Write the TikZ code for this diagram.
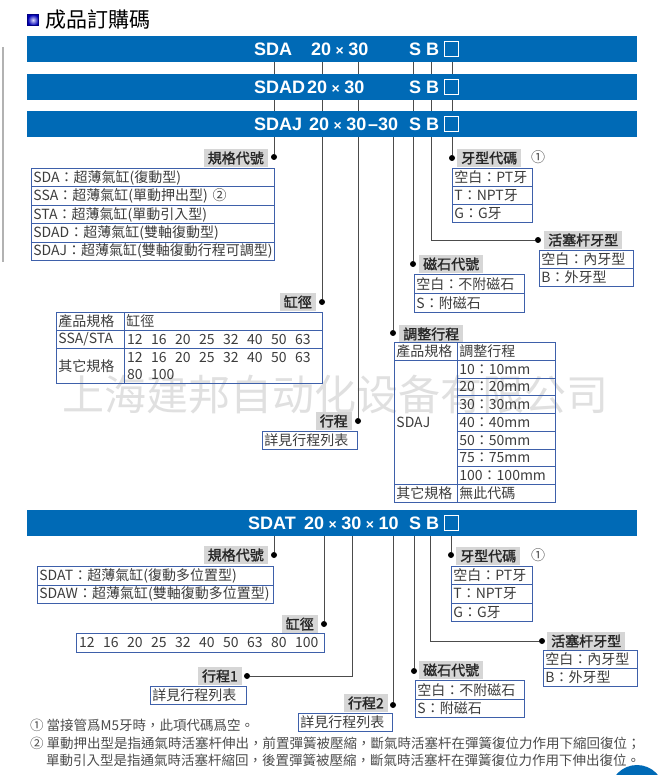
\documentclass[tikz,border=0pt]{standalone}
\usepackage{fontspec}
\setmainfont{Noto Sans CJK TC}
\newfontfamily\labfont{Noto Sans CJK TC}[FakeBold=1.5]
\newfontfamily\barfont{Liberation Sans}
\newfontfamily\wmfont{Noto Sans CJK SC}
\newcommand\tblfont{\fontsize{14}{15.5}\selectfont}
\newcommand\labsize{\labfont\fontsize{14}{16}\selectfont}
\newcommand\barsize{\barfont\bfseries\fontsize{18}{18}\selectfont}
\newcommand\by{\hspace{4.5pt}{\fontsize{14}{14}\selectfont ×}\hspace{4.5pt}}
\definecolor{barblue}{RGB}{0,106,182}
\definecolor{tblue}{RGB}{62,96,170}
\definecolor{labgray}{RGB}{214,214,214}
\definecolor{txtgray}{RGB}{60,60,60}

\begin{document}
\begin{tikzpicture}[x=1pt, y=-1pt,
  bar/.style={fill=barblue, minimum width=610pt, minimum height=26pt, inner sep=0pt},
  bartxt/.style={font=\barsize, text=white, anchor=base west, inner sep=0pt},
  slot/.style={draw=white, line width=0.8pt, minimum width=14pt, minimum height=15pt, inner sep=0pt},
  wire/.style={draw=black!70, line width=0.8pt},
  dot/.style={circle, fill=black, inner sep=0pt, minimum size=6pt},
  lab/.style={fill=labgray, font=\labsize, text=black!85, inner xsep=4pt, inner ysep=0pt, minimum height=18pt},
  cell/.style={draw=tblue, line width=0.8pt, anchor=north west, inner xsep=2pt, inner ysep=0pt,
    minimum height=18pt, text width=#1, align=left, font=\tblfont, text=txtgray},
  num/.style={font=\tblfont, text=txtgray, anchor=base west, inner sep=0pt},
  note/.style={font=\fontsize{13.5}{15}\selectfont, text=black!70, anchor=west, inner sep=0pt}]
  \useasboundingbox (0,0) rectangle (665,775);
  % Watermark and page edge
  \node[font=\wmfont\fontsize{42}{42}\selectfont, text=black!12] (wm) at (335,395) {上海建邦自动化设备有限公司};
  \draw[black!30, line width=1.2pt] (3,47) -- (3,262);
  \begin{scope}
    \clip (0,0) rectangle (665,775);
    \fill[barblue] (637,792) circle (27);
  \end{scope}
  % Title
  \node[shade, inner color=blue!15, outer color=blue!70!black, draw=blue!50!black, minimum size=11pt, inner sep=0pt] (icon) at (33,20) {};
  \node[anchor=west, font=\fontsize{21}{21}\selectfont] (title) at (42,20) {成品訂購碼};
  % Lines between the code bars
  \foreach \x in {274,322,358,413,431,452}
    \draw[wire] (\x,62) -- (\x,111);
  % Code bars
  \node[bar] (bar1) at (332,49) {};
  \node[bar] (bar2) at (332,87) {};
  \node[bar] (bar3) at (332,124) {};
  \node[bar] (bar4) at (332,523) {};
  \node[bartxt] (b1-code) at (254,55.5) {SDA};
  \node[bartxt] (b1-size) at (311,55.5) {20\by30};
  \node[bartxt] (b2-code) at (254,93.5) {SDAD};
  \node[bartxt] (b2-size) at (307,93.5) {20\by30};
  \node[bartxt] (b3-code) at (254,130.5) {SDAJ};
  \node[bartxt] (b3-size) at (309,130.5) {20\by30};
  \node[bartxt] (b3-adj) at (368,130.5) {–30};
  \node[bartxt] (b4-code) at (248,529.5) {SDAT};
  \node[bartxt] (b4-size) at (304,529.5) {20\by30\by10};
  \foreach \y/\b in {49/1,87/2,124/3,523/4} {
    \node[bartxt] (b\b-s) at (409,\y+6.5) {S};
    \node[bartxt] (b\b-b) at (426,\y+6.5) {B};
    \node[slot] (b\b-t) at (451.5,\y) {};
  }

  % ---- SDA / SDAD / SDAJ ----
  % Spec code
  \node[dot] (d-spec) at (274,157) {};
  \node[lab, anchor=east] (l-spec) at (268,158) {規格代號};
  \foreach \t [count=\i from 0] in {SDA：超薄氣缸(復動型), SSA：超薄氣缸(單動押出型) ②, STA：超薄氣缸(單動引入型), SDAD：超薄氣缸(雙軸復動型), SDAJ：超薄氣缸(雙軸復動行程可調型)}
    \node[cell=239pt, minimum height=18.4pt] (spec\i) at (31,168+18.4*\i) {\t};
  % Thread code
  \node[dot] (d-thread) at (452,158) {};
  \node[lab, anchor=west] (l-thread) at (457,158) {牙型代碼};
  \node[note, font=\fontsize{14}{14}\selectfont] (n-thread) at (531,157) {①};
  \foreach \t [count=\i from 0] in {空白：PT牙, T：NPT牙, G：G牙}
    \node[cell=76pt] (thread\i) at (452,168+18*\i) {\t};
  % Rod end thread
  \coordinate (k-rod) at (431,137);
  \node[dot] (d-rod) at (538,240) {};
  \node[lab, anchor=west] (l-rod) at (544,240) {活塞杆牙型};
  \foreach \t [count=\i from 0] in {空白：內牙型, B：外牙型}
    \node[cell=90pt] (rod\i) at (539,250+18*\i) {\t};
  % Magnet
  \node[dot] (d-mag) at (413,264) {};
  \node[lab, anchor=west] (l-mag) at (419,264) {磁石代號};
  \foreach \t [count=\i from 0] in {空白：不附磁石, S：附磁石}
    \node[cell=106pt, minimum height=19pt] (mag\i) at (414,274+19*\i) {\t};
  % Adjustable stroke
  \node[dot] (d-adj) at (393,333) {};
  \node[lab, anchor=west] (l-adj) at (399,334) {調整行程};
  \node[cell=59pt] (adj-h1) at (394,342) {產品規格};
  \node[cell=94pt] (adj-h2) at (457,342) {調整行程};
  \node[cell=59pt, minimum height=124pt] (adj-m) at (394,360) {SDAJ};
  \foreach \t [count=\i from 0] in {10：10mm, 20：20mm, 30：30mm, 40：40mm, 50：50mm, 75：75mm, 100：100mm}
    \node[cell=94pt, minimum height=17.7pt] (adj\i) at (457,360+17.7*\i) {\t};
  \node[cell=59pt] (adj-o1) at (394,484) {其它規格};
  \node[cell=94pt] (adj-o2) at (457,484) {無此代碼};
  % Bore
  \node[dot] (d-bore) at (322,302) {};
  \node[lab, anchor=east] (l-bore) at (316,302) {缸徑};
  \node[cell=64pt] (bore-h1) at (56,312) {產品規格};
  \node[cell=194pt] (bore-h2) at (124,312) {缸徑};
  \node[cell=64pt] (bore-a1) at (56,330) {SSA/STA};
  \node[cell=194pt] (bore-a2) at (124,330) {};
  \node[cell=64pt, minimum height=35pt] (bore-b1) at (56,348) {其它規格};
  \node[cell=194pt, minimum height=35pt] (bore-b2) at (124,348) {};
  \foreach \n [count=\i from 0] in {12,16,20,25,32,40,50,63} {
    \node[num] (ba\i) at (127+24*\i,344) {\n};
    \node[num] (bb\i) at (127+24*\i,362) {\n};
  }
  \node[num] (bb8) at (127,379) {80};
  \node[num] (bb9) at (151,379) {100};
  % Stroke
  \node[dot] (d-stroke) at (358,421) {};
  \node[lab, anchor=east] (l-stroke) at (352,421) {行程};
  \node[cell=91pt] (stroke) at (262,431) {詳見行程列表};
  % Connectors
  \foreach \d in {spec,bore,stroke,adj,mag,thread}
    \draw[wire] (bar3.south -| d-\d) -- (d-\d);
  \draw[wire] (k-rod) |- (d-rod);

  % ---- SDAT ----
  % Spec code
  \node[dot] (e-spec) at (274,555) {};
  \node[lab, anchor=east] (m-spec) at (268,555) {規格代號};
  \foreach \t [count=\i from 0] in {SDAT：超薄氣缸(復動多位置型), SDAW：超薄氣缸(雙軸復動多位置型)}
    \node[cell=232pt, minimum height=18.5pt] (spec2\i) at (37,566+18.5*\i) {\t};
  % Thread code
  \node[dot] (e-thread) at (451,555) {};
  \node[lab, anchor=west] (m-thread) at (456,556) {牙型代碼};
  \node[note, font=\fontsize{14}{14}\selectfont] (o-thread) at (531,555) {①};
  \foreach \t [count=\i from 0] in {空白：PT牙, T：NPT牙, G：G牙}
    \node[cell=77pt, minimum height=18.3pt] (thread2\i) at (451,566+18.3*\i) {\t};
  % Rod end thread
  \coordinate (k-rod2) at (430,536);
  \node[dot] (e-rod) at (542,641) {};
  \node[lab, anchor=west] (m-rod) at (547,641) {活塞杆牙型};
  \foreach \t [count=\i from 0] in {空白：內牙型, B：外牙型}
    \node[cell=90pt] (rod2\i) at (543,650+18*\i) {\t};
  % Magnet
  \node[dot] (e-mag) at (414,671) {};
  \node[lab, anchor=west] (m-mag) at (419,670) {磁石代號};
  \foreach \t [count=\i from 0] in {空白：不附磁石, S：附磁石}
    \node[cell=105pt, minimum height=18.5pt] (mag2\i) at (415,680+18.5*\i) {\t};
  % Bore
  \node[dot] (e-bore) at (324,624) {};
  \node[lab, anchor=east] (m-bore) at (318,624) {缸徑};
  \node[cell=244pt, minimum height=19pt] (bore2) at (76,633) {};
  \foreach \n [count=\i from 0] in {12,16,20,25,32,40,50,63,80,100}
    \node[num] (bc\i) at (79+24*\i,647) {\n};
  % Stroke 1 and 2
  \coordinate (k-st1) at (352,536);
  \node[dot] (e-st1) at (247,676) {};
  \node[lab, anchor=east] (m-st1) at (242,676) {行程1};
  \node[cell=92pt] (st1) at (150,686) {詳見行程列表};
  \node[dot] (e-st2) at (393,705) {};
  \node[lab, anchor=east] (m-st2) at (388,703) {行程2};
  \node[cell=90pt] (st2) at (298,713) {詳見行程列表};
  % Connectors
  \foreach \d in {spec,bore,st2,mag,thread}
    \draw[wire] (bar4.south -| e-\d) -- (e-\d);
  \draw[wire] (k-rod2) |- (e-rod);
  \draw[wire] (k-st1) |- (e-st1);

  % Notes
  \node[note] (fn1) at (30,725) {① 當接管爲M5牙時，此項代碼爲空。};
  \node[note] (fn2) at (30,743) {② 單動押出型是指通氣時活塞杆伸出，前置彈簧被壓縮，斷氣時活塞杆在彈簧復位力作用下縮回復位；};
  \node[note] (fn3) at (46,760) {單動引入型是指通氣時活塞杆縮回，後置彈簧被壓縮，斷氣時活塞杆在彈簧復位力作用下伸出復位。};
\end{tikzpicture}
\end{document}
